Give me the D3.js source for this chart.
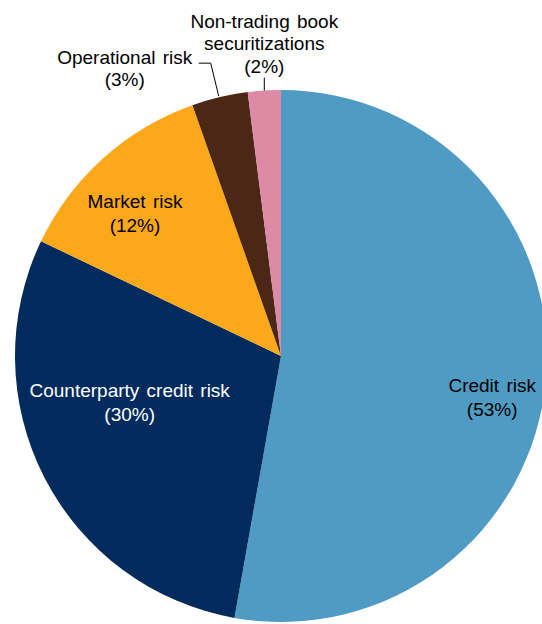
<!DOCTYPE html>
<html>
<head>
<meta charset="utf-8">
<script src="https://cdn.jsdelivr.net/npm/d3@7"></script>
<style>
  body { margin: 0; background: #fff; }
  svg { display: block; font-family: "Liberation Sans", Arial, sans-serif; }
</style>
</head>
<body>
<div id="pie"></div>
<script>
/* chart data (shares, labels as printed) */
var categories = ["Credit risk", "Counterparty credit risk", "Market risk", "Operational risk", "Non-trading book securitizations"],
    shares = [52.8, 29.3, 12.5, 3.4, 2.0],
    shareLabels = ["53%", "30%", "12%", "3%", "2%"],
    colors = ["#4f9bc3", "#002b5c", "#fba81a", "#4a2717", "#dd8ba5"];

var width = 542,
    height = 624,
    radius = 266,
    cx = 281,
    cy = 356,
    fontSize = 19;

var svg = d3.select("#pie")
            .append("svg")
            .attr("width", width)
            .attr("height", height);

var chart = svg.append("g")
                .attr("transform", "translate(" + cx + "," + cy + ")");

var pie = d3.pie().sort(null).value(function(d) { return d; });
var arcs = pie(shares);

var arc = d3.arc().innerRadius(0).outerRadius(radius);

/* draw slices */
chart.selectAll("path")
        .data(arcs)
        .enter().append("path")
            .attr("d", arc)
            .attr("fill", function(d, i) { return colors[i]; });

/* point on a ring at the middle of slice i */
function ring(i, r) {
    var a = (arcs[i].startAngle + arcs[i].endAngle) / 2;
    return [r * Math.sin(a), -r * Math.cos(a)];
}

function addLabel(x, y, lines, step, fill) {
    var t = chart.append("text")
                .attr("text-anchor", "middle")
                .attr("font-size", fontSize)
                .attr("word-spacing", 2)
                .attr("fill", fill || "#000");
    lines.forEach(function(l, k) {
        t.append("tspan").attr("x", x).attr("y", y + k * step).text(l);
    });
}

/* labels inside the slices */
var p0 = ring(0, 210);
addLabel(p0[0] + 2, p0[1] + 18, ["Credit risk", "(" + shareLabels[0] + ")"], 24);
var p1 = ring(1, 160);
addLabel(p1[0] - 9, p1[1] - 32, ["Counterparty credit risk", "(" + shareLabels[1] + ")"], 24, "#fff");
var p2 = ring(2, 205);
addLabel(p2[0] - 9, p2[1] + 4, ["Market risk", "(" + shareLabels[2] + ")"], 24);

/* outside labels with leader lines */
var op = ring(3, radius);
chart.append("polyline")
        .attr("points", [[op[0] - 1, op[1] - 1], [op[0] - 9, op[1] - 34], [op[0] - 21, op[1] - 34]].join(" "))
        .attr("fill", "none")
        .attr("stroke", "#000")
        .attr("stroke-width", 1);
addLabel(op[0] - 95, op[1] - 33, ["Operational risk", "(" + shareLabels[3] + ")"], 22);

var nt = ring(4, radius);
chart.append("line")
        .attr("x1", nt[0]).attr("y1", nt[1])
        .attr("x2", nt[0]).attr("y2", nt[1] - 13)
        .attr("stroke", "#000")
        .attr("stroke-width", 1);
addLabel(nt[0], nt[1] - 63, ["Non-trading book", "securitizations", "(" + shareLabels[4] + ")"], 22.5);
</script>
</body>
</html>
